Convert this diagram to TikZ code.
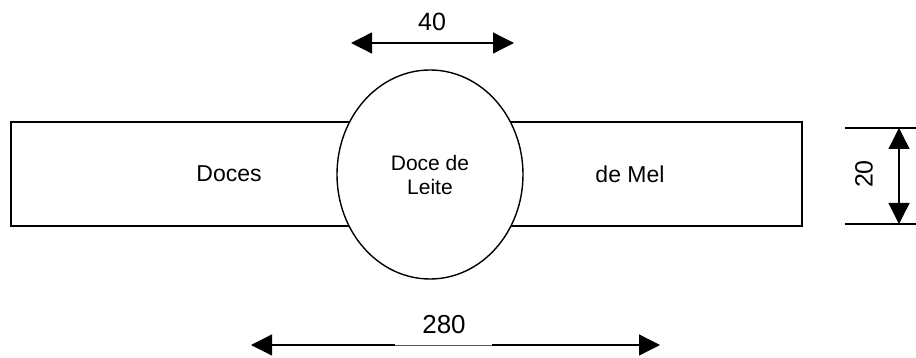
\documentclass[tikz,border=0pt]{standalone}
\usepackage{fontspec}
\setmainfont{Liberation Sans}
\usetikzlibrary{arrows.meta,shapes.geometric}
\begin{document}
\begin{tikzpicture}[x=1pt,y=-1pt,
  lw/.style={line width=1.4pt},
  tipL/.style={{Triangle[length=21pt,width=21pt]}-},
  tipR/.style={-{Triangle[length=21pt,width=21pt]}},
  dimarrow/.style={line width=1.3pt,{Triangle[length=21pt,width=21pt]}-{Triangle[length=21pt,width=21pt]}},
  lbl/.style={inner sep=0pt,font=\fontsize{23}{27}\selectfont},
  dimlbl/.style={inner sep=0pt,font=\fontsize{25}{29}\selectfont}]
\useasboundingbox (0,0) rectangle (916,358);
% band
\node[draw,lw,minimum width=791pt,minimum height=104pt,inner sep=0pt] (band) at (406.5,174) {};
\node[draw,lw,fill=white,ellipse,minimum width=186pt,minimum height=209pt,inner sep=0pt] (oval) at (430,174.5) {};
\node[lbl] (doces) at (229,174) {Doces};
\node[lbl] (mel) at (630,174) {de Mel};
\node[inner sep=0pt,align=center,font=\fontsize{21}{24}\selectfont] (dl) at (430,175) {Doce de\\Leite};
% top dimension
\coordinate (t1) at (351,43);
\coordinate (t2) at (514,43);
\draw[dimarrow] (t1) -- (t2);
\node[dimlbl] (l40) at (432,22) {40};
% right dimension
\coordinate (r1a) at (845,128);
\coordinate (r1b) at (916,128);
\coordinate (r2a) at (845,224);
\coordinate (r2b) at (916,224);
\draw[line width=1.3pt] (r1a) -- (r1b);
\draw[line width=1.3pt] (r2a) -- (r2b);
\coordinate (v1) at (899,128);
\coordinate (v2) at (899,224);
\draw[dimarrow] (v1) -- (v2);
\node[dimlbl,rotate=90] (l20) at (864,174) {20};
% bottom dimension
\coordinate (b1) at (251,345);
\coordinate (bm1) at (395,345);
\coordinate (bm2) at (492,345);
\coordinate (b2) at (660,345);
\draw[line width=1.3pt,tipL] (b1) -- (bm1);
\draw[line width=0.6pt,gray!70!black] (bm1) -- (bm2);
\draw[line width=1.3pt,tipR] (bm2) -- (b2);
\node[dimlbl,font=\fontsize{26}{30}\selectfont] (l280) at (444,325) {280};
\end{tikzpicture}
\end{document}
